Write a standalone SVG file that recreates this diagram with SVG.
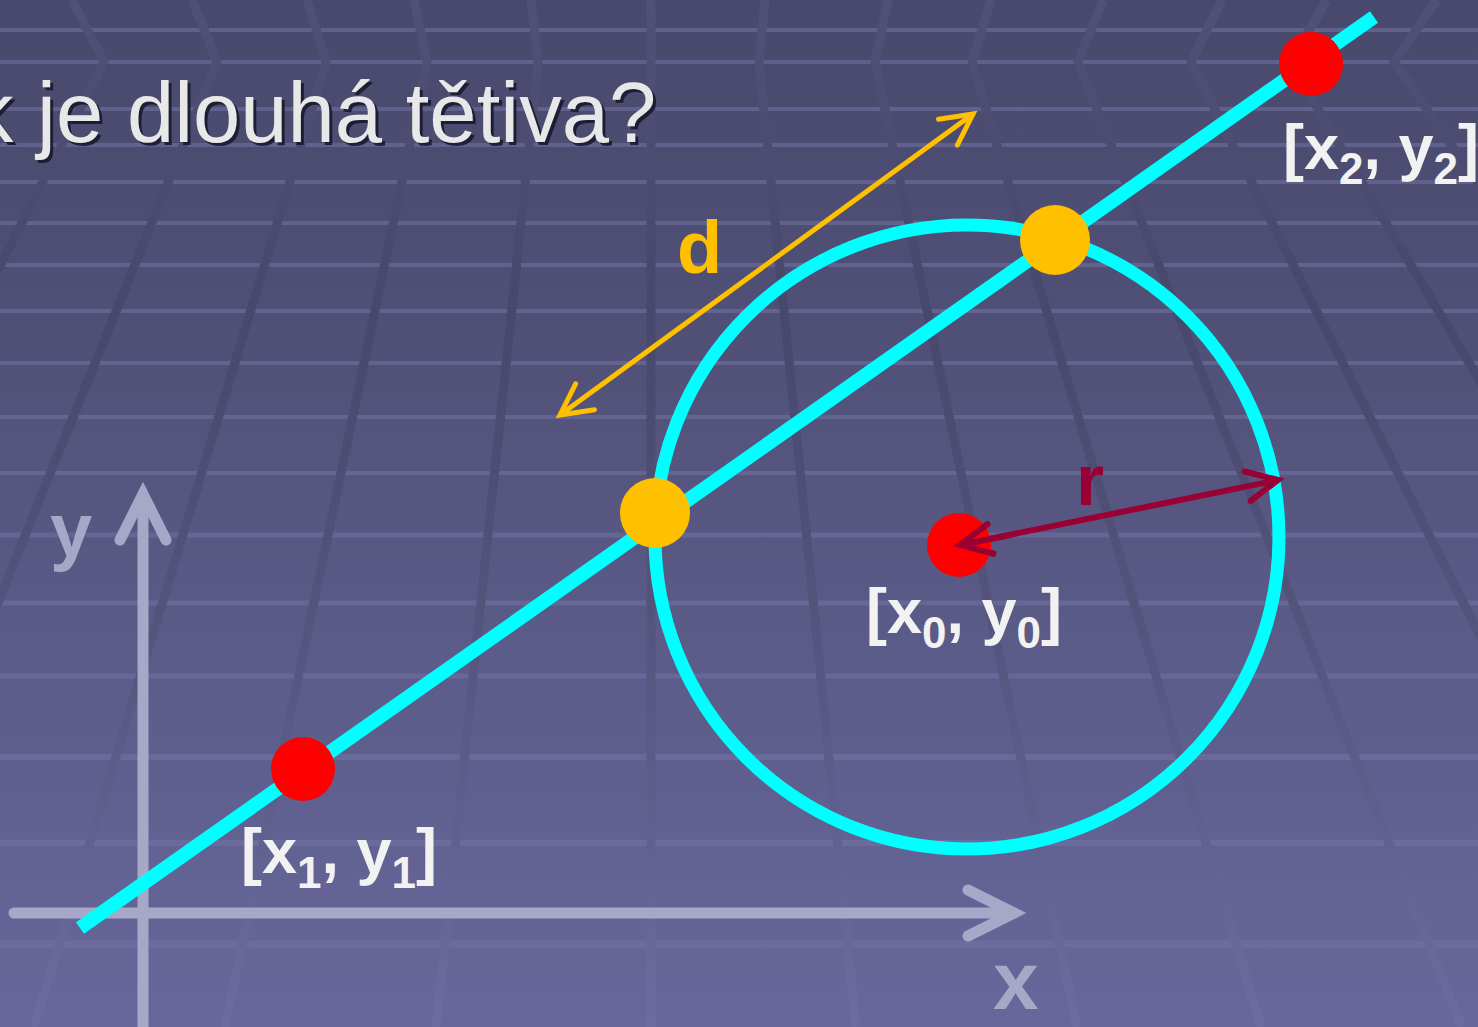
<svg xmlns="http://www.w3.org/2000/svg" width="1478" height="1027" viewBox="0 0 1478 1027">
<defs>
<linearGradient id="bg" x1="0" y1="0" x2="0" y2="1">
<stop offset="0" stop-color="#49496d"/>
<stop offset="0.35" stop-color="#515178"/>
<stop offset="0.65" stop-color="#5c5c8a"/>
<stop offset="1" stop-color="#67679b"/>
</linearGradient>
<linearGradient id="vl" gradientUnits="userSpaceOnUse" x1="0" y1="0" x2="0" y2="1027">
<stop offset="0" stop-color="#515178"/>
<stop offset="0.3" stop-color="#48486c"/>
<stop offset="0.6" stop-color="#53537c"/>
<stop offset="1" stop-color="#6c6ca1"/>
</linearGradient>
<marker id="arrO" markerUnits="userSpaceOnUse" orient="auto-start-reverse" overflow="visible" markerWidth="1" markerHeight="1">
<path d="M-31,-16 L0,0 L-31,16" fill="none" stroke="#ffc000" stroke-width="5" stroke-linecap="round"/>
</marker>
<marker id="arrR" markerUnits="userSpaceOnUse" orient="auto-start-reverse" overflow="visible" markerWidth="1" markerHeight="1">
<path d="M-31,-15 L0,0 L-31,15" fill="none" stroke="#990033" stroke-width="6" stroke-linecap="round"/>
</marker>
<marker id="arrA" markerUnits="userSpaceOnUse" orient="auto" overflow="visible" markerWidth="1" markerHeight="1">
<path d="M-46,-23 L0,0 L-46,23" fill="none" stroke="#a7a7c7" stroke-width="11" stroke-linecap="round"/>
</marker>
</defs>
<style>
.h{stroke:#7373a4;stroke-opacity:0.55;stroke-width:4}
.v{stroke:url(#vl);stroke-width:9;fill:none}
.axis{stroke:#a7a7c7;stroke-width:11;fill:none}
.axlbl{font-family:"Liberation Sans",Arial,sans-serif;font-weight:bold;fill:#a7a7c7}
.lbl{font-family:"Liberation Sans",Arial,sans-serif;font-weight:bold;font-size:63px;fill:#f2f2f2}
.sub{font-size:44px}
.cyan{stroke:#00ffff;fill:none}
.red{fill:#ff0000}
.yel{fill:#ffc000}
.title{font-family:"Liberation Sans",Arial,sans-serif;font-size:85px}
</style>
<rect x="0" y="0" width="1478" height="1027" fill="url(#bg)"/>
<g id="grid">
<line class="h" x1="0" y1="30" x2="1478" y2="30"/>
<line class="h" x1="0" y1="62" x2="1478" y2="62"/>
<line class="h" x1="0" y1="109" x2="1478" y2="109"/>
<line class="h" x1="0" y1="145" x2="1478" y2="145"/>
<line class="h" x1="0" y1="182" x2="1478" y2="182"/>
<line class="h" x1="0" y1="223" x2="1478" y2="223"/>
<line class="h" x1="0" y1="265" x2="1478" y2="265"/>
<line class="h" x1="0" y1="311" x2="1478" y2="311"/>
<line class="h" x1="0" y1="363" x2="1478" y2="363"/>
<line class="h" x1="0" y1="417" x2="1478" y2="417"/>
<line class="h" x1="0" y1="473" x2="1478" y2="473"/>
<line class="h" x1="0" y1="535" x2="1478" y2="535" style="stroke-width:5"/>
<line class="h" x1="0" y1="603" x2="1478" y2="603" style="stroke-width:5"/>
<line class="h" x1="0" y1="676" x2="1478" y2="676" style="stroke-width:5"/>
<line class="h" x1="0" y1="757" x2="1478" y2="757" style="stroke-width:6"/>
<line class="h" x1="0" y1="843" x2="1478" y2="843" style="stroke-width:6"/>
<line class="h" x1="0" y1="944" x2="1478" y2="944" style="stroke-width:7"/>
<polyline class="v" points="-44,0 -6,62 -597,1027"/>
<polyline class="v" points="72,0 104,62 -388,1027"/>
<polyline class="v" points="192,0 217,62 -174,1027"/>
<polyline class="v" points="307,0 326,62 34,1027"/>
<polyline class="v" points="414,0 427,62 225,1027"/>
<polyline class="v" points="531,0 538,62 436,1027"/>
<polyline class="v" points="651,0 651,62 651,1027"/>
<polyline class="v" points="765,0 759,62 856,1027"/>
<polyline class="v" points="888,0 875,62 1077,1027"/>
<polyline class="v" points="991,0 972,62 1261,1027"/>
<polyline class="v" points="1103,0 1078,62 1462,1027"/>
<polyline class="v" points="1222,0 1191,62 1677,1027"/>
<polyline class="v" points="1327,0 1290,62 1865,1027"/>
<polyline class="v" points="1437,0 1394,62 2063,1027"/>
<polyline class="v" points="1549,0 1500,62 2264,1027"/>
</g>
<g id="axes">
<line class="axis" x1="143" y1="1027" x2="143" y2="494" marker-end="url(#arrA)"/>
<line class="axis" x1="14" y1="913" x2="1014" y2="913" stroke-linecap="round" marker-end="url(#arrA)"/>
<text class="axlbl" x="50" y="556" font-size="76">y</text>
<text class="axlbl" x="993" y="1009" font-size="82">x</text>
</g>
<g id="title">
<text class="title" x="-26" y="145" fill="#15152a" fill-opacity="0.85">k je dlouhá tětiva?</text>
<text class="title" x="-29" y="142" fill="#e8e8e8">k je dlouhá tětiva?</text>
</g>
<g id="chord-line">
<line class="cyan" x1="80" y1="928" x2="1374" y2="17" stroke-width="14"/>
</g>
<g id="circle">
<circle class="cyan" cx="967" cy="537" r="312" stroke-width="13"/>
</g>
<g id="connectors">
<line x1="560" y1="415" x2="973" y2="114" stroke="#ffc000" stroke-width="5" marker-start="url(#arrO)" marker-end="url(#arrO)"/>
<line x1="960" y1="545" x2="1278" y2="480" stroke="#990033" stroke-width="6" marker-start="url(#arrR)" marker-end="url(#arrR)"/>
</g>
<g id="point-x1y1">
<circle class="red" cx="303" cy="769" r="32"/>
<text class="lbl" x="241" y="873">[x<tspan class="sub" dy="15">1</tspan><tspan dy="-15">, y</tspan><tspan class="sub" dy="15">1</tspan><tspan dy="-15">]</tspan></text>
</g>
<g id="point-x2y2">
<circle class="red" cx="1311" cy="64" r="32"/>
<text class="lbl" x="1283" y="169">[x<tspan class="sub" dy="15">2</tspan><tspan dy="-15">, y</tspan><tspan class="sub" dy="15">2</tspan><tspan dy="-15">]</tspan></text>
</g>
<g id="center-x0y0">
<circle class="red" cx="959" cy="545" r="32"/>
<text class="lbl" x="866" y="633">[x<tspan class="sub" dy="15">0</tspan><tspan dy="-15">, y</tspan><tspan class="sub" dy="15">0</tspan><tspan dy="-15">]</tspan></text>
</g>
<g id="radius-tip">
<line x1="960" y1="545" x2="1010" y2="535" stroke="#990033" stroke-width="6" marker-start="url(#arrR)"/>
</g>
<g id="intersection-A">
<circle class="yel" cx="655" cy="513" r="35"/>
</g>
<g id="intersection-B">
<circle class="yel" cx="1055" cy="240" r="35"/>
</g>
<g id="labels">
<text x="677" y="273" font-family="Liberation Sans, Arial, sans-serif" font-weight="bold" font-size="74" fill="#ffc000">d</text>
<text x="1076" y="505" font-family="Liberation Sans, Arial, sans-serif" font-weight="bold" font-size="72" fill="#990033">r</text>
</g>
</svg>
